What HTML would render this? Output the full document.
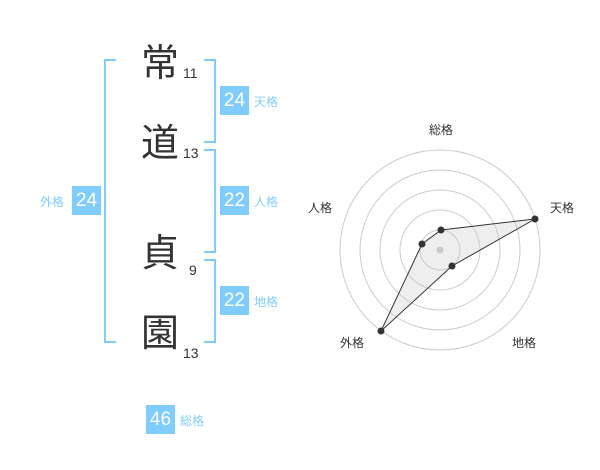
<!DOCTYPE html>
<html><head><meta charset="utf-8"><style>
body{margin:0;width:600px;height:470px;background:#fff;position:relative;font-family:"Liberation Sans","Noto Sans CJK JP",sans-serif;overflow:hidden}
.k{position:absolute;left:141px;font-size:38px;line-height:40px;color:#333;font-family:"Noto Sans CJK JP",sans-serif}
.n{position:absolute;font-size:14px;color:#333}
.b{position:absolute;width:29px;height:29px;background:#80ccff;color:#fff;font-size:19px;line-height:29px;text-align:center}
.l{position:absolute;font-size:12px;color:#80ccff;line-height:14px}
.br{position:absolute;border:2px solid #80ccff}
</style></head><body>
<div class="k" style="top:40px">常</div><div class="n" style="left:183px;top:65px">11</div>
<div class="k" style="top:120px">道</div><div class="n" style="left:183px;top:145px">13</div>
<div class="k" style="top:230px">貞</div><div class="n" style="left:189px;top:262px">9</div>
<div class="k" style="top:310px">園</div><div class="n" style="left:183px;top:345px">13</div>
<div class="br" style="left:104px;top:59px;width:10px;height:280px;border-right:none"></div>
<div class="br" style="left:204px;top:59px;width:10px;height:80px;border-left:none"></div>
<div class="br" style="left:204px;top:149px;width:10px;height:100px;border-left:none"></div>
<div class="br" style="left:204px;top:259px;width:10px;height:80px;border-left:none"></div>
<div class="b" style="left:220px;top:86px">24</div><div class="l" style="left:254px;top:95px">天格</div>
<div class="b" style="left:220px;top:186px">22</div><div class="l" style="left:254px;top:195px">人格</div>
<div class="b" style="left:220px;top:286px">22</div><div class="l" style="left:254px;top:295px">地格</div>
<div class="b" style="left:72px;top:186px">24</div><div class="l" style="left:40px;top:195px">外格</div>
<div class="b" style="left:146px;top:405px">46</div><div class="l" style="left:180px;top:414px">総格</div>
<svg style="position:absolute;left:0;top:0" width="600" height="470">
<g fill="none" stroke="#ccc" stroke-width="1">
<circle cx="440" cy="250" r="20"/><circle cx="440" cy="250" r="40"/><circle cx="440" cy="250" r="60"/><circle cx="440" cy="250" r="80"/><circle cx="440" cy="250" r="100"/></g>
<circle cx="440" cy="250" r="3.5" fill="#ccc"/>
<polygon points="441,230 535,219 452,266 381,331 422,244" fill="rgba(200,200,200,0.3)" stroke="#333" stroke-width="1"/>
<g fill="#333"><circle cx="441" cy="230" r="3.5"/><circle cx="535" cy="219" r="3.5"/><circle cx="452" cy="266" r="3.5"/><circle cx="381" cy="331" r="3.5"/><circle cx="422" cy="244" r="3.5"/></g>
<g font-size="12" fill="#333" font-family="Liberation Sans,Noto Sans CJK JP,sans-serif" text-anchor="middle">
<text x="441" y="134">総格</text><text x="562" y="212">天格</text><text x="320" y="212">人格</text><text x="352" y="347">外格</text><text x="524" y="347">地格</text></g>
</svg>
</body></html>
